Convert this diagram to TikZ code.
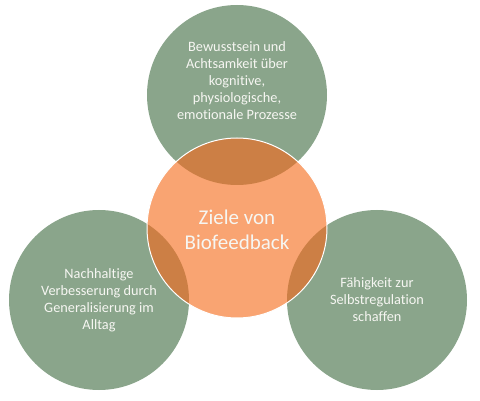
\documentclass[tikz,border=0pt]{standalone}
\usepackage{fontspec}
\setmainfont{Carlito}[Ligatures=NoCommon]
\definecolor{sage}{HTML}{8AA58B}
\definecolor{peach}{HTML}{F9A472}
\definecolor{rust}{HTML}{CC7F45}
\definecolor{softwhite}{HTML}{F6F6F2}
\begin{document}
\begin{tikzpicture}[x=1pt,y=-1pt,
  ring/.style={circle,minimum size=180pt,inner sep=0pt,fill=sage},
  txt/.style={text=softwhite,align=center,inner sep=0pt,font=\fontsize{14.3}{17}\selectfont}]
\useasboundingbox (0,0) rectangle (480,401);
\node[ring] (top) at (237,95) {};
\node[ring] (left) at (99,300) {};
\node[ring] (right) at (377,300) {};
\node[ring,fill=peach] (mid) at (237,228) {};
\begin{scope}
  \clip (mid.center) circle (90pt);
  \fill[rust] (top.center) circle (90pt);
  \fill[rust] (left.center) circle (90pt);
  \fill[rust] (right.center) circle (90pt);
\end{scope}
\draw[white,line width=1pt] (mid.center) circle (90pt);
\node[txt] (ttop) at (237,81) {Bewusstsein und\\Achtsamkeit über\\kognitive,\\physiologische,\\emotionale Prozesse};
\node[txt,font=\fontsize{21}{25}\selectfont] (tmid) at (237,230) {Ziele von\\Biofeedback};
\node[txt] (tleft) at (99,300) {Nachhaltige\\Verbesserung durch\\Generalisierung im\\Alltag};
\node[txt] (tright) at (377,300) {Fähigkeit zur\\Selbstregulation\\schaffen};
\end{tikzpicture}
\end{document}
